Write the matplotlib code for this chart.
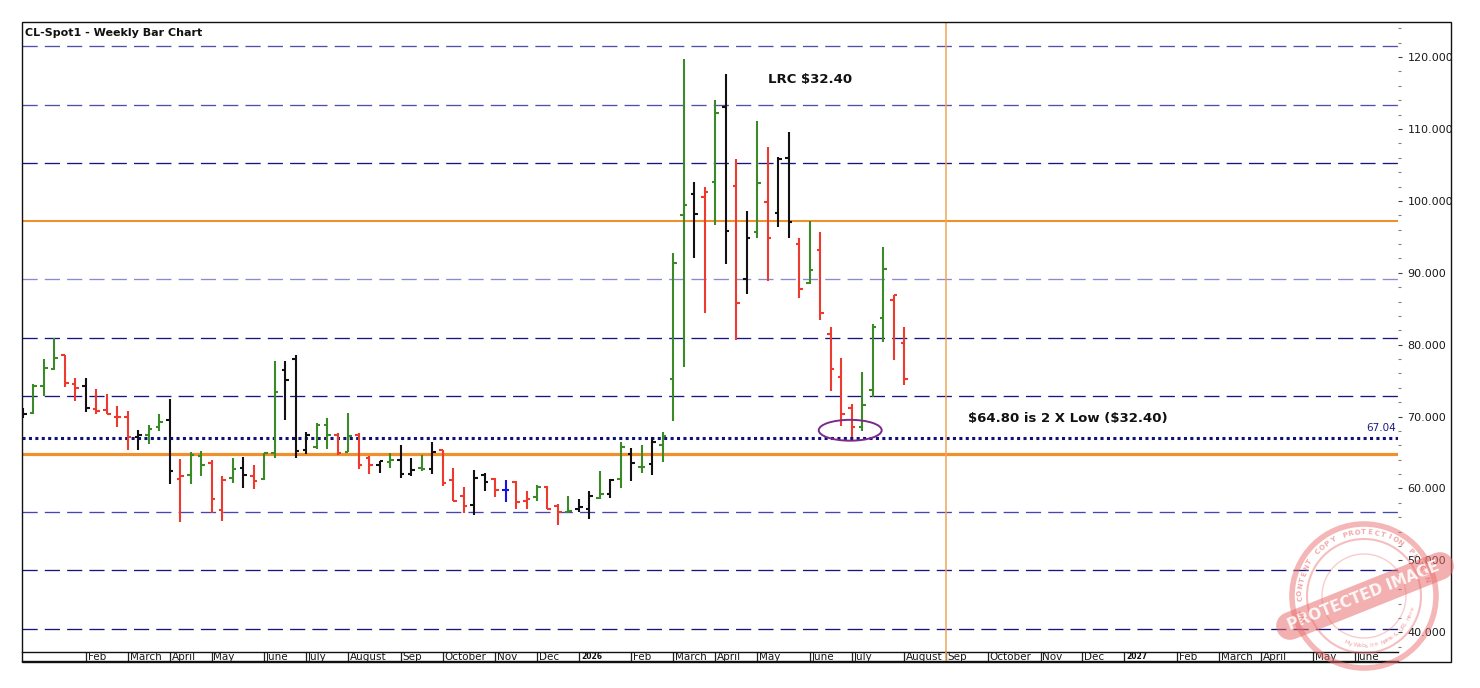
import matplotlib
matplotlib.use("Agg")
import matplotlib.pyplot as plt
import matplotlib.dates as mdates
from matplotlib.patches import Ellipse, Circle, Rectangle
from matplotlib.ticker import MultipleLocator, FormatStrFormatter
import numpy as np
import pandas as pd

# ---------------- data ----------------
first_week = "2024-12-27"
opens = [70.2, 70.5, 74.2, 76.6, 78.5, 74.6, 74.2, 71.1, 70.9, 70.0,
         70.0, 67.2, 67.5, 68.5, 69.5, 61.3, 61.9, 64.5, 63.6, 57.0,
         61.5, 62.9, 61.8, 61.3, 64.9, 76.5, 78.0, 65.3, 65.8, 68.9,
         67.5, 65.1, 67.4, 64.3, 63.2, 63.7, 64.0, 62.0, 62.8, 62.7,
         65.4, 61.2, 58.9, 57.7, 61.9, 61.3, 59.8, 60.9, 58.3, 58.8,
         60.2, 57.5, 56.7, 57.2, 57.2, 58.7, 59.2, 61.3, 64.8, 63.0,
         63.4, 66.0, 75.2, 98.1, 101.0, 100.6, 102.6, 113.0, 102.1, 89.1,
         95.7, 99.9, 98.3, 106.0, 94.0, 88.6, 93.2, 81.5, 75.5, 71.2,
         68.6, 73.7, 83.7, 86.2, 80.2]
highs = [71.2, 74.6, 78.0, 80.9, 78.6, 75.3, 75.4, 73.8, 73.2, 71.5,
         70.8, 68.1, 68.9, 70.4, 72.4, 64.1, 65.1, 65.2, 63.9, 61.8,
         64.2, 64.4, 63.3, 65.0, 77.8, 77.7, 78.5, 67.8, 69.1, 69.8,
         67.7, 70.5, 67.7, 64.5, 63.8, 65.0, 66.1, 64.2, 64.7, 66.4,
         65.4, 62.9, 60.2, 62.6, 62.2, 61.4, 61.2, 61.0, 59.7, 60.5,
         60.3, 57.8, 58.9, 58.5, 59.7, 62.4, 61.3, 66.5, 65.6, 66.0,
         67.2, 67.8, 92.7, 119.7, 102.6, 101.9, 114.1, 117.7, 105.8, 98.6,
         111.1, 107.5, 106.1, 109.6, 94.9, 97.2, 95.7, 82.5, 78.2, 71.8,
         76.2, 82.9, 93.6, 86.9, 82.5]
lows = [69.8, 70.3, 72.9, 76.5, 74.1, 72.1, 70.6, 70.4, 70.3, 68.5,
        65.3, 65.4, 66.2, 68.0, 60.6, 55.3, 60.6, 61.7, 56.6, 55.5,
        60.7, 60.1, 59.9, 61.2, 64.3, 69.5, 64.2, 64.8, 65.5, 65.5,
        64.7, 65.1, 62.7, 62.0, 62.2, 62.9, 61.4, 61.7, 62.5, 62.0,
        60.4, 58.2, 56.6, 56.3, 59.7, 58.8, 58.1, 57.2, 57.1, 58.3,
        57.1, 54.9, 56.6, 56.7, 55.8, 58.5, 58.7, 60.1, 61.1, 62.1,
        61.9, 63.7, 69.4, 76.9, 92.1, 84.4, 96.6, 91.2, 80.7, 87.1,
        94.8, 88.8, 96.3, 94.8, 86.5, 88.5, 83.4, 73.6, 68.7, 67.2,
        68.0, 72.7, 80.4, 77.9, 74.4]
closes = [70.4, 74.2, 76.7, 78.2, 74.7, 74.0, 71.2, 70.8, 70.4, 70.0,
          67.2, 67.4, 68.3, 69.2, 62.5, 61.7, 64.6, 63.3, 58.5, 61.2,
          62.7, 61.9, 61.0, 64.9, 73.4, 75.1, 65.2, 67.4, 68.9, 67.4,
          65.0, 67.3, 63.3, 63.3, 63.8, 64.0, 62.0, 62.6, 62.7, 65.1,
          60.7, 58.2, 57.6, 61.4, 60.9, 59.8, 59.8, 58.1, 58.5, 60.2,
          57.2, 56.7, 56.8, 57.4, 58.9, 59.3, 61.2, 65.8, 63.6, 63.0,
          66.4, 67.3, 91.3, 99.4, 98.2, 101.3, 112.2, 95.8, 85.8, 94.9,
          102.5, 94.8, 105.8, 97.1, 87.8, 90.4, 84.4, 76.6, 70.4, 68.6,
          71.6, 82.5, 90.5, 86.9, 75.2]
bar_types = ["k", "g", "g", "g", "r", "r", "k", "r", "r", "r",
             "r", "k", "g", "g", "k", "r", "g", "g", "r", "r",
             "g", "k", "r", "g", "g", "k", "k", "k", "g", "g",
             "r", "g", "r", "r", "k", "g", "k", "k", "g", "k",
             "r", "r", "r", "k", "k", "r", "b", "r", "r", "g",
             "r", "r", "g", "k", "k", "g", "k", "g", "k", "g",
             "k", "g", "g", "g", "k", "r", "g", "k", "r", "k",
             "g", "r", "k", "k", "r", "g", "r", "r", "r", "r",
             "g", "g", "g", "r", "r"]

lrc_low = 32.40
grid_levels = [40.5, 48.6, 56.7, 72.9, 81.0, 89.1, 105.3, 113.4, 121.5]
orange_levels = [64.8, 97.2]
dotted_level = 67.04
marker_date = "2026-09-04"
calendar_end = "2027-07-01"
month_names = {2: "Feb", 3: "March", 4: "April", 5: "May", 6: "June", 7: "July",
               8: "August", 9: "Sep", 10: "October", 11: "Nov", 12: "Dec"}
y_major = list(range(40, 121, 10))

# ---------------- styling ----------------
type_colors = {"g": "#3a8a28", "r": "#ee3a2e", "k": "#111111", "b": "#1414e6"}
grid_colors = ["#16167e", "#16167e", "#4545b5", "#16167e", "#16167e",
               "#8a8ad2", "#16167e", "#5050aa", "#5050aa"]

W, H = 1480, 688
fig = plt.figure(figsize=(W / 100, H / 100), dpi=100)


def fx(px):
    return px / W


def fy(py):
    return 1 - py / H


L, R, T, B, SB = 22, 1397.7, 22.3, 651.7, 661.3
ax = fig.add_axes([fx(L), fy(B), fx(R) - fx(L), fy(T) - fy(B)])
strip = fig.add_axes([fx(L), fy(SB), fx(R) - fx(L), fy(B) - fy(SB)])

dates = pd.date_range(first_week, periods=len(opens), freq="7D")
x = mdates.date2num(dates)
week = 7.0
x_left = x[0] - 0.095 * week
x_right = x[0] + 131.05 * week
for a in (ax, strip):
    a.set_xlim(x_left, x_right)
ax.set_ylim(37.3, 124.84)

# horizontal levels
for lvl, col in zip(grid_levels, grid_colors):
    ax.axhline(lvl, color=col, lw=0.95, dashes=(11.5, 5.4), zorder=1)
ax.axhline(orange_levels[0], color="#f0902c", lw=2.3, zorder=1)
ax.axhline(orange_levels[1], color="#f0902c", lw=1.5, zorder=1)
ax.axhline(dotted_level, color="#10107a", lw=2.2, dashes=(1, 1.1), zorder=1)

mx = mdates.date2num(pd.Timestamp(marker_date))
ax.axvline(mx, color="#f3a456", lw=1.1, zorder=1)
strip.axvline(mx, color="#f3a456", lw=1.1, zorder=3)

# OHLC bars
cols = [type_colors[t] for t in bar_types]
tick_len = 2.4
ax.vlines(x, lows, highs, colors=cols, lw=1.5, zorder=3)
ax.hlines(opens, x - tick_len, x, colors=cols, lw=1.5, zorder=3)
ax.hlines(closes, x, x + tick_len, colors=cols, lw=1.5, zorder=3)

# ellipse around double bottom
ax.add_patch(Ellipse((x[79] - 1.0, 68.1), width=42, height=2.9, fill=False,
                     ec="#7b2a8c", lw=1.4, zorder=4))

# annotations
ax.text(x[71], 116.95, f"LRC \\${lrc_low:.2f}", fontsize=9.5, fontweight="bold",
        ha="left", va="center", color="#111111")
ax.text(x[0] + 90.1 * week, 69.8,
        f"\\${2 * lrc_low:.2f} is 2 X Low (\\${lrc_low:.2f})",
        fontsize=9.5, fontweight="bold", ha="left", va="center", color="#111111")
ax.text(x_right - 0.15 * week, 68.35, f"{dotted_level:.2f}", fontsize=7.5,
        ha="right", va="center", color="#1a1a8a")

# y axis on right
for s in ax.spines.values():
    s.set_visible(False)
ax.set_xticks([])
ax.yaxis.tick_right()
ax.set_yticks(y_major)
ax.yaxis.set_minor_locator(MultipleLocator(2))
ax.yaxis.set_major_formatter(FormatStrFormatter("%.3f"))
ax.tick_params(axis="y", which="major", length=3, width=0.8, color="#404040",
               pad=4, labelsize=8, labelcolor="#1a1a1a")
ax.tick_params(axis="y", which="minor", length=2, width=0.8, color="#808080")

# month strip
strip.set_ylim(0, 1)
strip.set_yticks([])
strip.set_xticks([])
for k in ("left", "right"):
    strip.spines[k].set_visible(False)
for k in ("top", "bottom"):
    strip.spines[k].set_linewidth(1.0)
    strip.spines[k].set_color("#111111")
strip.patch.set_alpha(0)

cal = pd.date_range(first_week, calendar_end, freq="7D")
firsts = pd.Series(cal).groupby([cal.year, cal.month]).first()
for d in firsts:
    if d <= pd.Timestamp("2025-01-31"):
        continue
    xd = mdates.date2num(d)
    strip.axvline(xd, color="#222222", lw=0.9)
    if d.month == 1:
        strip.annotate(str(d.year), (xd, 1.0), xytext=(1.5, -0.5), textcoords="offset points",
                       fontsize=5.5, fontweight="bold", ha="left", va="top", color="#111111")
    else:
        strip.annotate(month_names[d.month], (xd, 0.42), xytext=(1.2, 0), textcoords="offset points",
                       fontsize=7.5, ha="left", va="center", color="#1a1a1a",
                       annotation_clip=False)

# title and outer frame
fig.text(fx(25), fy(33), "CL-Spot1 - Weekly Bar Chart", fontsize=8, fontweight="bold",
         ha="left", va="center", color="#111111")
fig.add_artist(Rectangle((fx(22), fy(661.5)), fx(1451) - fx(22), fy(22.3) - fy(661.5),
                         transform=fig.transFigure, fill=False, ec="#111111", lw=1.0))

# protection stamp overlay
ov = fig.add_axes([0, 0, 1, 1], zorder=10)
ov.set_xlim(0, W)
ov.set_ylim(H, 0)
ov.axis("off")
scol = "#ea6f6f"
cx, cy = 1364, 596
ov.add_patch(Circle((cx, cy), 72, fill=False, ec=scol, lw=4.0, alpha=0.5))
ov.add_patch(Circle((cx, cy), 57, fill=False, ec=scol, lw=1.5, alpha=0.45))
ov.add_patch(Circle((cx, cy), 42, fill=False, ec=scol, lw=1.0, alpha=0.35))
ov.plot([1290, 1440], [626, 566], color=scol, lw=20, alpha=0.55, solid_capstyle="round")
ov.text(cx, 596, "PROTECTED IMAGE", rotation=21.8, rotation_mode="anchor",
        fontsize=11, fontweight="bold", color="white", ha="center", va="center", alpha=0.9)
arc_txt = "WP CONTENT COPY PROTECTION PLUGIN"
angs = np.linspace(200, 15, len(arc_txt))
for ch, a in zip(arc_txt, angs):
    t = np.deg2rad(a)
    ov.text(cx + 64 * np.cos(t), cy - 64 * np.sin(t), ch, rotation=a - 90,
            fontsize=5, fontweight="bold", color=scol, ha="center", va="center", alpha=0.6)
low_txt = "My Website Name & URL Here"
angs2 = np.linspace(250, 345, len(low_txt))
for ch, a in zip(low_txt, angs2):
    t = np.deg2rad(a)
    ov.text(cx + 50 * np.cos(t), cy - 50 * np.sin(t), ch, rotation=a + 90,
            fontsize=4.5, color=scol, ha="center", va="center", alpha=0.6)

fig.savefig("out.png", dpi=100, facecolor="white")
